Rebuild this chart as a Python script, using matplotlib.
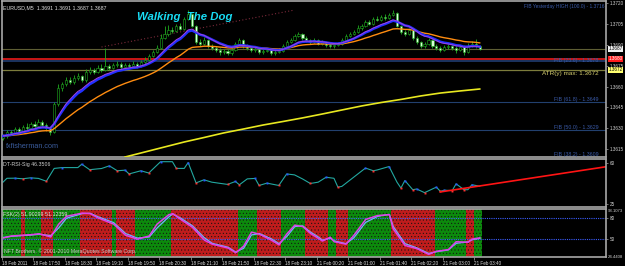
import numpy as np
import pandas as pd
import matplotlib
matplotlib.use("Agg")
import matplotlib.pyplot as plt
import matplotlib.transforms as mtransforms

plt.rcParams['font.family'] = ['Liberation Sans', 'DejaVu Sans']
plt.rcParams['hatch.linewidth'] = 0.35

# ---- price data, pips above 1.3600 (EURUSD M5) ----
opens = [22.9, 24.4, 27.3, 26.6, 29.4, 28.0, 30.9, 30.2, 33.0, 31.6, 34.5, 32.3, 30.2,
         27.3, 47.4,
         58.9, 61.8, 64.7, 63.2, 66.1, 67.5, 64.7, 70.4, 71.9, 70.4,
         73.3, 71.9, 74.7, 73.3, 75.5, 76.2, 74.0, 75.5, 74.7, 76.2,
         74.7, 77.6, 79.1, 81.9, 84.8,
         87.7, 94.9, 97.8, 100.6, 99.9, 103.5, 101.4, 108.5,
         112.1, 103.5, 92.0, 90.6, 93.4,
         89.1, 87.7, 86.3, 84.8, 85.5, 84.1, 86.3, 90.6, 93.4, 89.1,
         87.7, 86.3, 87.0, 84.8, 85.5, 86.3, 84.1, 84.8, 85.5, 89.1,
         92.0, 93.4, 96.3, 97.8, 94.9, 93.4, 92.0, 93.4, 90.6, 92.0,
         89.8, 89.1, 89.8, 90.6, 93.4, 96.3,
         97.8, 99.2, 102.1, 103.5, 106.4, 105.0, 108.5, 107.8, 110.0,
         109.3, 111.4,
         112.8,
         103.5, 99.2, 97.8, 100.6,
         94.9, 92.0, 89.1, 90.6, 93.4, 89.1,
         87.7, 86.3, 88.4, 89.1, 87.7,
         86.3, 88.4, 84.8, 89.1, 90.6, 89.1]
closes = [24.4, 27.3, 26.6, 29.4, 28.0, 30.9, 30.2, 33.0, 31.6, 34.5, 32.3, 30.2, 27.3,
          47.4, 58.9,
          61.8, 64.7, 63.2, 66.1, 67.5, 64.7, 70.4, 71.9, 70.4, 73.3,
          71.9, 74.7, 73.3, 75.5, 76.2, 74.0, 75.5, 74.7, 76.2, 74.7,
          77.6, 79.1, 81.9, 84.8, 87.7,
          94.9, 97.8, 100.6, 99.9, 103.5, 101.4, 108.5, 112.1,
          103.5, 92.0, 90.6, 93.4, 89.1,
          87.7, 86.3, 84.8, 85.5, 84.1, 86.3, 90.6, 93.4, 89.1, 87.7,
          86.3, 87.0, 84.8, 85.5, 86.3, 84.1, 84.8, 85.5, 89.1, 92.0,
          93.4, 96.3, 97.8, 94.9, 93.4, 92.0, 93.4, 90.6, 92.0, 89.8,
          89.1, 89.8, 90.6, 93.4, 96.3, 97.8,
          99.2, 102.1, 103.5, 106.4, 105.0, 108.5, 107.8, 110.0, 109.3,
          111.4, 112.8,
          103.5,
          99.2, 97.8, 100.6, 94.9,
          92.0, 89.1, 90.6, 93.4, 89.1, 87.7,
          86.3, 88.4, 89.1, 87.7, 86.3,
          88.4, 84.8, 89.1, 90.6, 89.1, 87.0]
highs = [26.0, 28.5, 29.0, 31.0, 30.6, 32.5, 33.8, 34.6, 35.5, 36.8, 35.8, 33.5, 31.5,
         49.0, 62.0,
         63.5, 66.5, 67.0, 68.0, 69.5, 68.6, 72.5, 74.0, 73.5, 75.5,
         76.0, 87.7, 76.5, 77.0, 78.0, 77.5, 77.2, 76.8, 78.0, 77.5,
         79.0, 81.0, 83.5, 86.5, 90.0,
         97.5, 103.5, 104.0, 102.5, 105.0, 106.0, 110.0, 115.3,
         113.0, 104.0, 94.0, 95.5, 94.5,
         90.5, 89.0, 87.5, 87.0, 86.8, 88.0, 92.0, 95.0, 94.0, 90.5,
         89.0, 88.5, 88.0, 87.0, 88.0, 87.0, 86.5, 87.5, 90.5, 93.5,
         95.0, 98.0, 99.5, 98.5, 96.0, 94.5, 95.0, 94.0, 93.5, 93.0,
         91.0, 91.5, 92.0, 95.0, 98.0, 99.5,
         101.0, 104.0, 105.0, 108.0, 107.5, 110.0, 110.5, 111.5, 111.8,
         113.0, 115.0,
         113.5,
         104.5, 100.5, 102.0, 101.5,
         96.0, 93.0, 92.0, 95.0, 94.5, 90.5,
         89.0, 90.0, 90.5, 90.0, 89.0,
         90.0, 89.5, 91.5, 92.5, 94.5, 90.0]
lows = [21.5, 23.0, 25.4, 25.5, 26.5, 27.0, 29.0, 29.5, 30.4, 30.5, 31.0, 28.0, 24.8,
        26.5, 46.0,
        57.0, 60.5, 61.5, 62.0, 64.8, 63.0, 63.5, 69.0, 68.8, 69.5,
        70.5, 71.0, 72.0, 72.5, 74.0, 72.8, 73.0, 73.5, 73.8, 73.2,
        74.0, 76.5, 78.0, 81.0, 84.0,
        87.0, 94.0, 96.5, 98.5, 99.0, 100.5, 100.8, 107.5,
        102.5, 90.5, 89.0, 89.5, 88.0,
        86.0, 84.5, 83.0, 83.5, 82.5, 83.0, 85.5, 89.5, 88.0, 86.5,
        85.0, 85.0, 83.5, 83.5, 84.5, 82.8, 83.0, 84.0, 85.0, 88.0,
        91.0, 92.5, 95.5, 93.5, 92.0, 90.8, 91.0, 89.5, 89.5, 88.5,
        88.0, 87.8, 88.8, 90.0, 92.5, 95.5,
        97.0, 98.5, 101.0, 102.5, 104.0, 104.5, 106.8, 107.0, 108.0,
        108.5, 110.5,
        102.5,
        98.0, 96.5, 97.0, 93.5,
        90.5, 87.5, 88.0, 90.0, 88.0, 86.0,
        84.5, 85.5, 87.0, 86.0, 84.0,
        85.5, 83.0, 84.0, 88.5, 88.0, 86.5]

# slow (yellow) moving average, sampled every 5 bars
slow_ma_bars = [31, 36, 41, 46, 51, 56, 61, 66, 71, 76, 81, 86, 91, 96, 101, 106, 111, 116, 121]
slow_ma_vals = [9.3, 12.9, 16.5, 20.1, 23.3, 26.6, 29.4, 32.3, 34.8, 37.4, 40.2, 43.1,
                46.0, 48.5, 50.7, 53.2, 55.3, 56.8, 58.2]

# dotted trend line (bar, pips)
dot_trend_bars = [25, 74]
dot_trend_vals = [88.4, 115.0]

# DT-RSI-Sig panel
rsi_bars = [0, 1, 3, 5, 7, 9, 11, 13, 15, 19, 20, 22, 24, 25, 27, 29, 31, 32, 35, 37,
            40, 43, 44, 46, 47, 49, 51, 53, 57, 59, 60, 62, 64, 65, 67, 70, 72, 74, 76, 78,
            80, 82, 84, 85, 86, 89, 92, 94, 95, 98, 100, 101, 102, 104, 105, 107, 110, 111,
            112, 114, 115, 117, 118, 119, 121]
rsi_vals = [43.6, 46.9, 47.0, 46.5, 47.3, 46.8, 44.4, 55.3, 56.0, 56.0, 58.9, 54.2, 54.9,
            55.2, 57.5, 53.3, 53.8, 50.6, 53.3, 51.4, 61.0, 61.0, 55.3, 55.3, 60.3, 43.0,
            45.6, 43.6, 41.7, 44.2, 41.4, 46.4, 46.8, 40.8, 42.8, 40.8, 50.6, 49.8, 46.4,
            42.5, 43.6, 47.8, 46.9, 39.4, 40.0, 47.8, 55.6, 53.3, 54.0, 56.9, 43.6, 38.6,
            45.0, 37.2, 37.8, 34.7, 39.4, 35.8, 36.8, 36.4, 42.2, 37.2, 37.2, 41.4, 40.2]
rsi_trend_bars = [111, 153]
rsi_trend_vals = [35.3, 56.7]

# FSK panel
fsk_bars = [0, 2, 7, 9, 12, 14, 16, 20, 22, 24, 28, 31, 34, 37, 39, 42, 43, 45, 48, 51,
            53, 57, 59, 61, 63, 65, 68, 70, 72, 74, 76, 78, 80, 81, 83, 84, 87, 89, 92, 95,
            98, 99, 102, 105, 108, 110, 113, 115, 118, 119, 121]
fsk_main = [51.8, 54.5, 56.4, 57.7, 53.1, 71.4, 82.7, 87.3, 86.5, 80.4, 71.4, 55.5, 50.0,
            54.5, 71.4, 85.0, 86.4, 78.2, 66.8, 48.6, 42.8, 37.3, 30.5, 40.0, 60.0, 57.0,
            48.6, 41.8, 57.7, 70.0, 68.0, 58.0, 51.0, 47.3, 52.7, 46.3, 42.8, 55.5, 78.2,
            83.7, 85.0, 64.6, 40.9, 36.4, 28.2, 32.7, 35.0, 46.3, 45.5, 50.0, 51.8]
fsk_signal = [52.5, 54.0, 55.8, 57.0, 55.0, 66.0, 80.0, 86.5, 87.0, 82.0, 73.5, 58.0, 51.5,
              53.0, 66.0, 82.0, 86.0, 80.0, 69.0, 52.0, 44.0, 38.5, 31.5, 37.0, 56.0, 58.0,
              50.5, 43.5, 54.0, 68.0, 69.0, 60.0, 53.0, 48.5, 51.5, 47.5, 43.5, 52.0, 74.0,
              82.5, 85.5, 68.0, 43.5, 37.5, 29.5, 32.0, 34.5, 44.0, 46.0, 49.0, 51.1]
band_edges = [-0.5, 4.5, 5.5, 9.5, 12.5, 19.5, 27.5, 28.5, 33.5, 42.5, 59.5, 64.5, 70.5,
              76.5, 82.5, 84.5, 87.5, 98.5, 109.5, 117.5, 119.5, 121.5]
band_state = ['G', 'R', 'G', 'R', 'G', 'R', 'G', 'R', 'G', 'R', 'G', 'R', 'G', 'R', 'G',
              'R', 'G', 'R', 'G', 'R', 'G']

time_label_bars = [0, 8, 16, 24, 32, 40, 48, 56, 64, 72, 80, 88, 96, 104, 112, 120]
time_labels = ["18 Feb 2011", "18 Feb 17:50", "18 Feb 18:30", "18 Feb 19:10", "18 Feb 19:50",
               "18 Feb 20:30", "18 Feb 21:10", "18 Feb 21:50", "18 Feb 22:30", "18 Feb 23:10",
               "21 Feb 00:20", "21 Feb 01:00", "21 Feb 01:40", "21 Feb 02:20", "21 Feb 03:00",
               "21 Feb 03:40"]

price_ticks = [1.3615, 1.3630, 1.3645, 1.3660, 1.3675, 1.3690, 1.3705, 1.3720]


def px(p):
    return 1.36 + np.asarray(p, dtype=float) / 10000.


W, H = 625, 266
fig = plt.figure(figsize=(W / 100, H / 100), dpi=100, facecolor='black')


def box(x0, y0, x1, y1):
    return [x0 / W, 1 - y1 / H, (x1 - x0) / W, (y1 - y0) / H]


ax1 = fig.add_axes(box(2, 1, 606, 157))
ax2 = fig.add_axes(box(2, 159, 606, 207))
ax3 = fig.add_axes(box(2, 209, 606, 257))
xmin, xmax = -0.25, 153.05
FS = 3.8
AFS = 3.3   # axis label size, small enough to fit right of the chart
gray = '#a8a8a8'
for ax in (ax1, ax2, ax3):
    ax.set_facecolor('black')
    ax.set_xlim(xmin, xmax)
    for s in ax.spines.values():
        s.set_color(gray)
        s.set_linewidth(1.2)
    ax.yaxis.tick_right()
    ax.tick_params(axis='y', colors=gray, labelcolor='#d0d0d0', labelsize=AFS,
                   length=1.5, width=0.5, pad=1.0)
    ax.tick_params(axis='x', bottom=False, labelbottom=False)

# ---------------- main panel ----------------
o = px(opens)
c = px(closes)
hi = px(highs)
lo = px(lows)
x = np.arange(len(closes))
ax1.set_ylim(1.36093, 1.37215)

# horizontal levels
ax1.axhline(1.3649, color='#22406e', lw=0.8)
ax1.axhline(1.3629, color='#22406e', lw=0.8)
ax1.axhline(1.3687, color='#5e5e34', lw=0.8)
ax1.axhline(1.3672, color='#7c7c3c', lw=0.9)
ax1.axhline(1.3678, color='#1c3460', lw=1.4)
ax1.axhline(1.3680, color='#ff1c1c', lw=1.1)

ax1.plot(dot_trend_bars, px(dot_trend_vals), color='#7a2a3a', lw=0.8, ls=(0, (1, 2)))

# candles
green = '#1fae1f'
body_lo = np.minimum(o, c)
body_h = np.maximum(np.abs(c - o), 0.00003)
face = np.where(c >= o, 'black', '#d8ffd8')
ax1.vlines(x, lo, hi, color=green, lw=0.6, zorder=3)
ax1.bar(x, body_h, bottom=body_lo, width=0.55, color=face, edgecolor=green, lw=0.4, zorder=4)

# moving averages
cs = pd.Series(c)
ax1.plot(x, cs.ewm(span=24, adjust=False).mean(), color='#ff8c10', lw=1.0, zorder=5)
ax1.plot(x, cs.ewm(span=10, adjust=False).mean(), color='#2030ff', lw=1.8, zorder=5)
ax1.plot(x, cs.ewm(span=9, adjust=False).mean(), color='#a040e0', lw=0.7, zorder=6)
ax1.plot(slow_ma_bars, px(slow_ma_vals), color='#e8e820', lw=1.2, zorder=5)

ax1.set_yticks(price_ticks)
ax1.set_yticklabels([f"{p:.4f}" for p in price_ticks])

tr1 = mtransforms.blended_transform_factory(ax1.transAxes, ax1.transData)
fib_col = '#3a5aa8'
ax1.text(0.997, 1.37175, "FIB Yesterday HIGH (100.0) - 1.3716", transform=tr1, color=fib_col,
         fontsize=3.5, ha='right', va='center')
ax1.text(0.987, 1.36785, "FIB (23.6) - 1.3678", transform=tr1, color=fib_col,
         fontsize=FS, ha='right', va='center')
ax1.text(0.987, 1.36695, "ATR(y) max: 1.3672", transform=tr1, color='#d8d070',
         fontsize=4.6, ha='right', va='center')
ax1.text(0.987, 1.36505, "FIB (61.8) - 1.3649", transform=tr1, color=fib_col,
         fontsize=FS, ha='right', va='center')
ax1.text(0.987, 1.36305, "FIB (50.0) - 1.3629", transform=tr1, color=fib_col,
         fontsize=FS, ha='right', va='center')
ax1.text(0.987, 1.36108, "FIB (38.2) - 1.3609", transform=tr1, color=fib_col,
         fontsize=FS, ha='right', va='center')

# price labels on the axis
for val, bg, fg in [(1.3687, '#f0f0f0', 'black'), (1.3680, '#ff1c1c', 'white'),
                    (1.3672, '#ffff70', 'black')]:
    ax1.text(1.0045, val, f"{val:.4f}", transform=tr1, fontsize=AFS, color=fg, ha='left',
             va='center', clip_on=False,
             bbox=dict(facecolor=bg, edgecolor='none', pad=0.3))

ax1.text(0.002, 0.975, "EURUSD,M5  1.3691 1.3691 1.3687 1.3687", transform=ax1.transAxes,
         color='#e0e0e0', fontsize=FS, ha='left', va='top')
fig.text(137 / W, 1 - 17 / H, "Walking  The Dog", color='#18dcf4', fontsize=8.2,
         fontweight='bold', fontstyle='italic', ha='left', va='center')
ax1.text(0.006, 0.07, "fxfisherman.com", transform=ax1.transAxes, color='#3b5c9c',
         fontsize=5.2, ha='left', va='center')

# ---------------- DT-RSI panel ----------------
ax2.set_ylim(22.5, 63.3)
rb = np.array(rsi_bars)
rv = np.array(rsi_vals)
ax2.plot(rb, rv, color='#22a8a0', lw=0.8)
peak = np.r_[False, (rv[1:-1] > rv[:-2]) & (rv[1:-1] >= rv[2:]), False]
trough = np.r_[False, (rv[1:-1] < rv[:-2]) & (rv[1:-1] <= rv[2:]), False]
ax2.plot(rb[peak], rv[peak], 's', ms=1.4, color='#2a50ff', mew=0)
ax2.plot(rb[trough], rv[trough], 's', ms=1.4, color='#ff3030', mew=0)
ax2.plot(rsi_trend_bars, rsi_trend_vals, color='#ff1414', lw=1.2)
ax2.set_yticks([60, 25])
ax2.set_yticklabels(["60", "25"])
ax2.text(0.002, 0.93, "DT-RSI-Sig 46.3506", transform=ax2.transAxes, color='#d0d0d0',
         fontsize=FS, ha='left', va='top')

# ---------------- FSK panel ----------------
ax3.set_ylim(24.44, 93.11)
for i, st in enumerate(band_state):
    fc = '#0c8a0c' if st == 'G' else '#c01c1c'
    ax3.axvspan(band_edges[i], band_edges[i + 1], facecolor=fc, edgecolor='#101010',
                hatch='.....', lw=0, zorder=1)
ax3.axhline(80, color='#3a5cff', lw=0.8, ls=(0, (1, 1)), zorder=2)
ax3.axhline(50, color='#3a5cff', lw=0.8, ls=(0, (1, 1)), zorder=2)
ax3.plot(fsk_bars, fsk_signal, color='#70b0ff', lw=0.9, zorder=3)
ax3.plot(fsk_bars, fsk_main, color='#e040e8', lw=1.1, zorder=4)
ax3.set_yticks([80, 50])
ax3.set_yticklabels(["80", "50"])
tr3 = mtransforms.blended_transform_factory(ax3.transAxes, ax3.transData)
ax3.text(1.0035, 93.11, "93.1073", transform=tr3, color='#d0d0d0', fontsize=3.1,
         ha='left', va='top', clip_on=False)
ax3.text(1.0035, 24.44, "24.4408", transform=tr3, color='#d0d0d0', fontsize=3.1,
         ha='left', va='center', clip_on=False)
ax3.text(0.002, 0.93, "FSK(2) 51.90299 51.12359", transform=ax3.transAxes, color='#e0e0e0',
         fontsize=FS, ha='left', va='top', zorder=6)
ax3.text(0.004, 0.07, "NFT Brothers, \u00a9 2001-2010 MetaQuotes Software Corp.",
         transform=ax3.transAxes, color='#c8c8c8', fontsize=FS, ha='left', va='bottom',
         zorder=6)

# time axis
ax3.tick_params(axis='x', bottom=True, labelbottom=True, colors=gray, labelcolor='#e0e0e0',
                labelsize=3.3, length=2, width=0.5, pad=1.0)
ax3.set_xticks(np.array(time_label_bars) - 0.4)
ax3.set_xticklabels(time_labels, ha='left')

fig.savefig("out.png", dpi=100, facecolor='black')
